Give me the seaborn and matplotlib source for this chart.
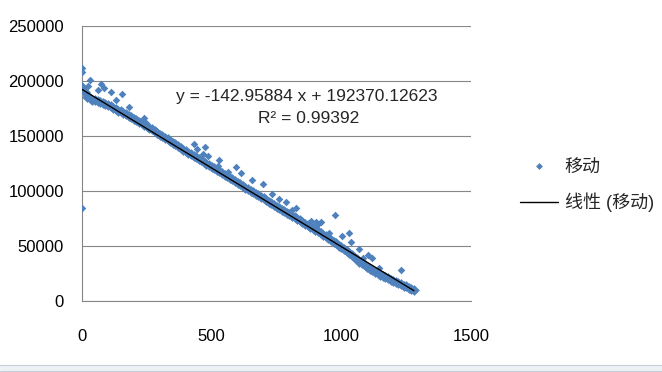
import matplotlib
matplotlib.use("Agg")
import matplotlib.pyplot as plt
import seaborn as sns
import pandas as pd
from matplotlib.lines import Line2D
from matplotlib.patches import Rectangle
from matplotlib.ticker import StrMethodFormatter

# dense band of points (every 10 units)
band_x = [0, 10, 20, 30, 40, 50, 60, 70, 80, 90,
          100, 110, 120, 130, 140, 150, 160, 170, 180, 190,
          200, 210, 220, 230, 240, 250, 260, 270, 280, 290,
          300, 310, 320, 330, 340, 350, 360, 370, 380, 390,
          400, 410, 420, 430, 440, 450, 460, 470, 480, 490,
          500, 510, 520, 530, 540, 550, 560, 570, 580, 590,
          600, 610, 620, 630, 640, 650, 660, 670, 680, 690,
          700, 710, 720, 730, 740, 750, 760, 770, 780, 790,
          800, 810, 820, 830, 840, 850, 860, 870, 880, 890,
          900, 910, 920, 930, 940, 950, 960, 970, 980, 990,
          1000, 1010, 1020, 1030, 1040, 1050, 1060, 1070, 1080, 1090,
          1100, 1110, 1120, 1130, 1140, 1150, 1160, 1170, 1180, 1190,
          1200, 1210, 1220, 1230, 1240, 1250, 1260, 1270, 1280]
band_y = [195000, 190000, 185500, 184100, 183000, 182300, 181500, 180700, 179900, 179000,
          178300, 177600, 175900, 174700, 173100, 172700, 171200, 170300, 168500, 167400,
          165600, 164600, 162700, 161700, 159900, 158900, 156900, 156000, 154200, 153100,
          151300, 150200, 148500, 147200, 145500, 143700, 142300, 140600, 139400, 137700,
          136500, 134900, 133600, 132000, 130700, 129100, 127900, 126300, 125000, 123400,
          122100, 120600, 119200, 117800, 116300, 115000, 113400, 112000, 110500, 109000,
          107600, 106000, 104800, 103100, 101900, 100200, 99000, 97400, 96100, 94500,
          93200, 91600, 90400, 88800, 87500, 85900, 84700, 83000, 81800, 80200,
          79000, 77300, 76100, 74500, 73300, 71700, 70400, 68900, 67600, 66100,
          64800, 63200, 61800, 60200, 58700, 56900, 55500, 53700, 52300, 50400,
          49000, 47200, 45500, 43700, 41900, 40000, 38600, 35900, 34300, 32400,
          30800, 29000, 27900, 26200, 25100, 23600, 22700, 21600, 20600, 19400,
          18500, 17400, 16400, 15400, 14000, 13200, 11800, 11000, 10400]

# stray points above / below the band
out_x = [0, 0, 0, 23, 30, 60, 73, 86, 110, 130, 153, 181, 239, 247,
         433, 445, 467, 474, 487, 528, 526, 562, 593, 613, 657, 697,
         734, 758, 785, 809, 824, 883, 902, 911, 922, 954, 977, 1004,
         1030, 1037, 1069, 1085, 1104, 1118, 1146, 1232]
out_y = [85000, 212000, 208000, 195500, 201000, 192000, 197000, 194000, 190000, 183000,
         188000, 176500, 166000, 162000, 143000, 138000, 133500, 140300, 131800, 128200,
         123000, 117300, 122000, 116600, 110000, 106000, 97000, 92700, 90300, 82400,
         84800, 73000, 72100, 69700, 71500, 61500, 77900, 59100, 61500, 53900,
         47300, 39100, 41800, 39100, 30300, 27900]

slope = -142.95884
intercept = 192370.12623
r2 = 0.99392
series_name = "移动"
trend_name = "线性 (移动)"

blue = "#4F81BD"
gray = "#868686"

sns.set_style("white")
plt.rcParams["font.family"] = ["Liberation Sans", "Noto Sans CJK SC"]

band = pd.DataFrame({"x": band_x, "y": band_y})
stray = pd.DataFrame({"x": out_x, "y": out_y})
all_x = pd.concat([band["x"], stray["x"]])
trend = pd.DataFrame({"x": [all_x.min(), all_x.max()]})
trend["y"] = intercept + slope * trend["x"]

fig = plt.figure(figsize=(6.62, 3.72), dpi=100)
ax = fig.add_axes([82 / 662, 71 / 372, 389 / 662, 275 / 372])

# the band is many overlapping points in the original, so bigger marks here
sns.scatterplot(data=band, x="x", y="y", marker="D", s=30, color=blue,
                linewidth=0, ax=ax, zorder=3)
sns.scatterplot(data=stray, x="x", y="y", marker="D", s=15, color=blue,
                linewidth=0, ax=ax, zorder=3)
sns.lineplot(data=trend, x="x", y="y", color="black", linewidth=1, ax=ax, zorder=4)

ax.set_xlim(0, 1500)
ax.set_ylim(0, 250000)
ax.set_xticks([0, 500, 1000, 1500])
ax.set_yticks([0, 50000, 100000, 150000, 200000, 250000])
ax.yaxis.set_major_formatter(StrMethodFormatter("{x:.0f}"))
ax.set_xlabel("")
ax.set_ylabel("")
ax.grid(axis="y", color=gray, linewidth=0.8)
ax.set_axisbelow(True)
for side in ["top", "right"]:
    ax.spines[side].set_visible(False)
for side in ["left", "bottom"]:
    ax.spines[side].set_color(gray)
    ax.spines[side].set_linewidth(0.8)
ax.tick_params(axis="x", direction="out", length=4, width=0.8, color=gray,
               pad=16, labelsize=12, labelcolor="black")
ax.tick_params(axis="y", direction="out", length=4, width=0.8, color=gray,
               pad=9, labelsize=12, labelcolor="black")

# trendline equation
fig.text(307 / 662, 1 - 96 / 372, f"y = {slope:.5f} x + {intercept:.5f}",
         ha="center", va="center", fontsize=12.5)
fig.text(309 / 662, 1 - 119 / 372, f"R² = {r2:.5f}",
         ha="center", va="center", fontsize=12.5)

handles = [Line2D([], [], marker="D", linestyle="", color=blue, markersize=3.5,
                  markeredgewidth=0),
           Line2D([], [], color="black", linewidth=1)]
fig.legend(handles, [series_name, trend_name], loc="upper left",
           bbox_to_anchor=(0.785, 0.571), frameon=False, fontsize=13,
           handlelength=2.1, handletextpad=0.4, labelspacing=0.9,
           borderpad=0, borderaxespad=0)

# sheet strip at the bottom edge
fig.add_artist(Rectangle((0, 0), 1, 7 / 372, transform=fig.transFigure,
                         facecolor="#eef2f7", edgecolor="none"))
for yy in [7 / 372, 1.5 / 372]:
    fig.add_artist(Line2D([0, 1], [yy, yy], transform=fig.transFigure,
                          color="#c5ced8", linewidth=0.8))

fig.savefig("out.png", dpi=100)
